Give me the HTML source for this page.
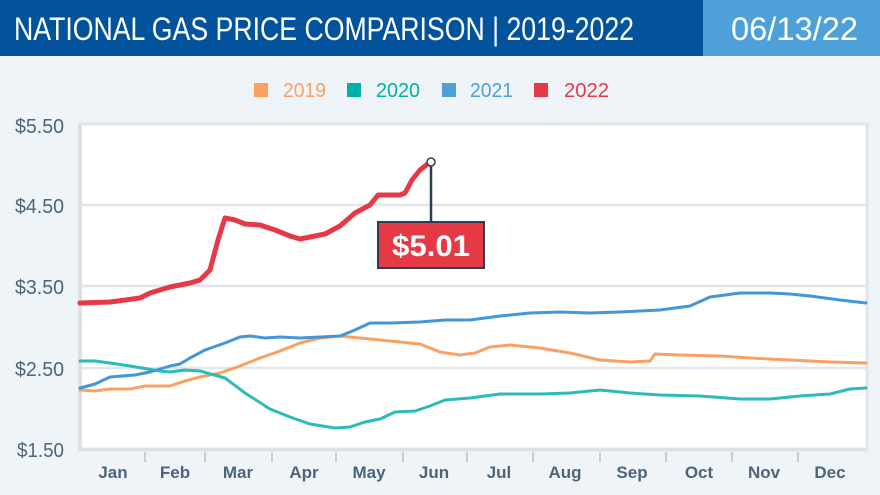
<!DOCTYPE html>
<html><head><meta charset="utf-8"><style>
html,body{margin:0;padding:0}
body{width:880px;height:495px;background:#eff4f9;position:relative;overflow:hidden}
</style></head><body>
<svg width="880" height="495" style="position:absolute;left:0;top:0" font-family="Liberation Sans, sans-serif">
<rect x="0" y="0" width="703" height="56" fill="#03539c"/>
<rect x="703" y="0" width="177" height="56" fill="#4ea0d8"/>
<text x="14" y="40" fill="#fff" font-size="32" textLength="620" lengthAdjust="spacingAndGlyphs">NATIONAL GAS PRICE COMPARISON | 2019-2022</text>
<text x="731" y="40" fill="#fff" font-size="32" textLength="127" lengthAdjust="spacingAndGlyphs">06/13/22</text>
<g font-size="20">
<rect x="254" y="83" width="14" height="14" fill="#f9a062"/><text x="283" y="97" fill="#f9a062" textLength="43" lengthAdjust="spacingAndGlyphs">2019</text>
<rect x="347" y="83" width="14" height="14" fill="#00afa5"/><text x="376" y="97" fill="#00afa5" textLength="44" lengthAdjust="spacingAndGlyphs">2020</text>
<rect x="442" y="83" width="14" height="14" fill="#4ea0d8"/><text x="470" y="97" fill="#4ea0d8" textLength="43" lengthAdjust="spacingAndGlyphs">2021</text>
<rect x="534" y="83" width="14" height="14" fill="#e63946"/><text x="564" y="97" fill="#e63946" textLength="45" lengthAdjust="spacingAndGlyphs">2022</text>
</g>
<rect x="80" y="124" width="787" height="325" fill="#fff" stroke="#e2e5ea" stroke-width="3"/>
<g stroke="#e2e5ea" stroke-width="2.5">
<line x1="80" y1="205" x2="867" y2="205"/><line x1="80" y1="286" x2="867" y2="286"/><line x1="80" y1="368" x2="867" y2="368"/>
</g>
<line x1="80" y1="124" x2="80" y2="450" stroke="#dde0e5" stroke-width="4"/>
<line x1="78" y1="450" x2="867" y2="450" stroke="#dde0e5" stroke-width="3"/>
<g stroke="#c9ccd2" stroke-width="2">
<line x1="145" y1="452" x2="145" y2="462"/><line x1="205" y1="452" x2="205" y2="462"/><line x1="272" y1="452" x2="272" y2="462"/><line x1="336" y1="452" x2="336" y2="462"/><line x1="403" y1="452" x2="403" y2="462"/><line x1="467" y1="452" x2="467" y2="462"/><line x1="533" y1="452" x2="533" y2="462"/><line x1="600" y1="452" x2="600" y2="462"/><line x1="666" y1="452" x2="666" y2="462"/><line x1="732" y1="452" x2="732" y2="462"/><line x1="798" y1="452" x2="798" y2="462"/>
</g>
<g fill="#4d6479" font-size="20">
<text x="15" y="133" textLength="49" lengthAdjust="spacingAndGlyphs">$5.50</text><text x="15" y="213" textLength="49" lengthAdjust="spacingAndGlyphs">$4.50</text><text x="15" y="294" textLength="49" lengthAdjust="spacingAndGlyphs">$3.50</text><text x="15" y="376" textLength="49" lengthAdjust="spacingAndGlyphs">$2.50</text><text x="17" y="457" textLength="47" lengthAdjust="spacingAndGlyphs">$1.50</text>
</g>
<g fill="#4d6479" font-size="17" font-weight="bold" text-anchor="middle">
<text x="113" y="478">Jan</text><text x="175" y="478">Feb</text><text x="238" y="478">Mar</text><text x="304" y="478">Apr</text><text x="369" y="478">May</text><text x="434" y="478">Jun</text><text x="499" y="478">Jul</text><text x="565" y="478">Aug</text><text x="632" y="478">Sep</text><text x="699" y="478">Oct</text><text x="764" y="478">Nov</text><text x="830" y="478">Dec</text>
</g>
<g fill="none" stroke-linejoin="round" stroke-linecap="round">
<polyline stroke="#f9a062" stroke-width="3" points="80,390 95,391 110,389 130,389 145,386 170,386 185,381 200,377 220,373 240,366 260,358 280,351 300,343 320,338 340,336 360,338 380,340 400,342 420,344 440,352 460,355 475,353 490,347 510,345 540,348 570,353 600,360 630,362 650,361 655,354 680,355 720,356 750,358 790,360 830,362 866,363"/>
<polyline stroke="#2bbbb9" stroke-width="3" points="80,361 95,361 110,363 130,366 160,371 170,372 185,370 200,371 225,378 245,393 270,409 290,417 310,424 335,428 350,427 365,422 380,419 395,412 415,411 430,406 445,400 470,398 500,394 540,394 570,393 600,390 630,393 660,395 700,396 740,399 770,399 800,396 830,394 850,389 866,388"/>
<polyline stroke="#4396d8" stroke-width="3" points="80,388 95,384 110,377 135,375 150,372 170,366 180,364 190,358 205,350 225,343 240,337 250,336 265,338 280,337 300,338 320,337 340,336 355,330 370,323 390,323 420,322 445,320 470,320 500,316 530,313 560,312 590,313 620,312 660,310 690,306 710,297 740,293 770,293 790,294 810,296 840,300 866,303"/>
<polyline stroke="#e63946" stroke-width="5" points="80,303 110,302 140,298 150,293 170,287 190,283 200,280 210,270 218,240 225,218 235,220 245,224 260,225 275,230 290,236 300,239 310,237 325,234 340,226 355,213 370,205 378,195 400,195 405,193 412,180 420,170 430,162"/>
</g>
<line x1="431" y1="163" x2="431" y2="222" stroke="#2d3e50" stroke-width="2.5"/>
<circle cx="431" cy="162" r="4" fill="#fff" stroke="#2d3e50" stroke-width="1.5"/>
<rect x="378" y="222" width="106" height="46" fill="#e63946" stroke="#2d3e50" stroke-width="2"/>
<text x="431" y="256" fill="#fff" font-size="30" font-weight="bold" text-anchor="middle" textLength="78" lengthAdjust="spacingAndGlyphs">$5.01</text>
</svg>
</body></html>
